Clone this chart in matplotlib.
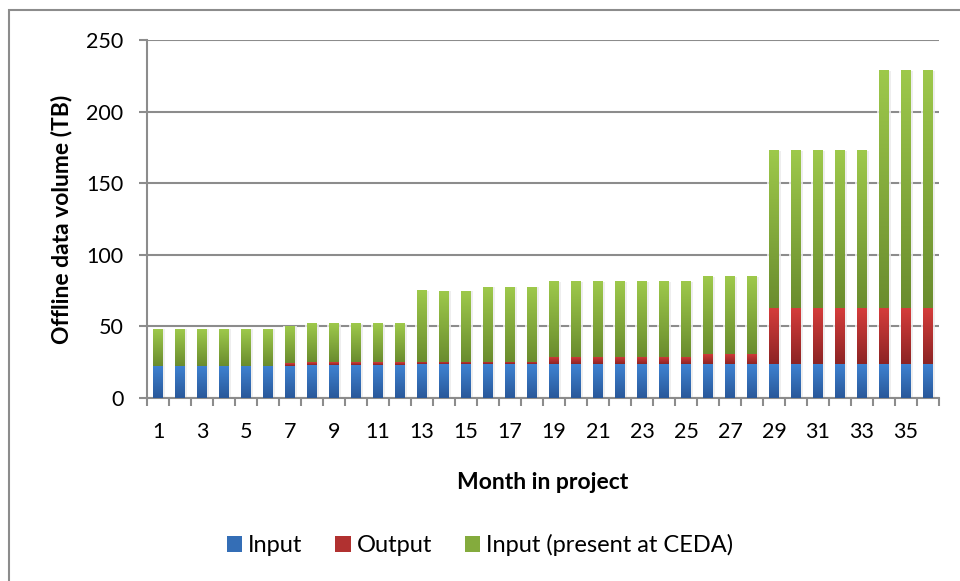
import numpy as np
import matplotlib
matplotlib.use("Agg")
import matplotlib.pyplot as plt
from matplotlib.colors import LinearSegmentedColormap
from matplotlib.patches import Rectangle, Patch

plt.rcParams['font.family'] = ['Lato', 'DejaVu Sans']

# Offline data volume per month (TB)
months = list(range(1, 37))
input_tb = [22.5] * 7 + [23.0] * 5 + [23.5] * 16 + [24.0] * 8
output_tb = [0.0] * 6 + [1.8] * 12 + [5.0] * 7 + [7.0] * 3 + [38.5] * 8
ceda_tb = ([25.5] * 6 + [25.7] + [27.2] * 5 + [49.7, 49.2, 49.2] + [52.2] * 3
           + [52.5] * 7 + [54.0] * 3 + [110.0] * 5 + [166.0] * 3)

series = [
    ("Input", input_tb, "#3f83d2", "#29589a"),
    ("Output", output_tb, "#d53d3b", "#8c2424"),
    ("Input (present at CEDA)", ceda_tb, "#9ec94b", "#6a8c2e"),
]

fig = plt.figure(figsize=(9.6, 5.81), dpi=100)
ax = fig.add_axes([147 / 960, 1 - 398 / 581, (939 - 147) / 960, (398 - 40) / 581])

x = np.arange(len(months))
width = 0.44
grad = np.linspace(0, 1, 256).reshape(-1, 1)

totals = np.sum([s[1] for s in series], axis=0)
# soft white glow and shadow behind every stack
ax.bar(x, totals, width + 0.22, color="white", alpha=0.75, linewidth=0, zorder=2)
ax.bar(x + 0.12, totals, width, color="#d0d0d0", alpha=0.35, linewidth=0,
       zorder=2.5)

bottom = np.zeros(len(months))
for name, vals, top_col, bot_col in series:
    vals = np.array(vals)
    cmap = LinearSegmentedColormap.from_list(name, [bot_col, top_col])
    bars = ax.bar(x, vals, width, bottom=bottom, facecolor="none",
                  linewidth=0, zorder=3)
    for p in bars.patches:
        if p.get_height() <= 0:
            continue
        x0, y0 = p.get_x(), p.get_y()
        ax.imshow(grad, cmap=cmap, origin="lower", aspect="auto",
                  extent=(x0, x0 + p.get_width(), y0, y0 + p.get_height()),
                  zorder=3, interpolation="bilinear")
    bottom = bottom + vals

ax.set_xlim(-0.5, len(months) - 0.5)
ax.set_ylim(0, 250)
ax.set_yticks(range(0, 251, 50))
ax.yaxis.grid(True, color="#8c8c8c", linewidth=1.5, zorder=1)
ax.set_axisbelow(True)

# labels on every second month, tick marks between categories
ax.set_xticks(x[::2])
ax.set_xticklabels([str(m) for m in months[::2]])
ax.set_xticks(np.arange(-0.5, len(months), 1), minor=True)
ax.tick_params(axis="x", which="major", length=0, pad=17, labelsize=15.5)
ax.tick_params(axis="x", which="minor", length=6, width=1.5, color="#8c8c8c",
               direction="out")
ax.tick_params(axis="y", length=6, width=1.5, color="#8c8c8c", pad=11,
               labelsize=15.5)

for side in ("top", "right"):
    ax.spines[side].set_visible(False)
for side in ("left", "bottom"):
    ax.spines[side].set_color("#8c8c8c")
    ax.spines[side].set_linewidth(1.5)

ax.set_xlabel("Month in project", fontsize=16.5, fontweight="bold", labelpad=22)
ax.set_ylabel("Offline data volume (TB)", fontsize=16.5, fontweight="bold",
              labelpad=10)

handles = [Patch(facecolor=LinearSegmentedColormap.from_list(n, [b, t])(0.5),
                 edgecolor="none", label=n)
           for n, _, t, b in series]
fig.legend(handles=handles, loc="center", bbox_to_anchor=(0.5, 1 - 545 / 581),
           ncol=3, frameon=False, fontsize=17, handlelength=0.65,
           handleheight=0.65, handletextpad=0.25, columnspacing=1.4)

# chart area border
fig.patches.append(Rectangle((9 / 960, -0.1), 1.2, 1 - 10 / 581 + 0.1,
                             transform=fig.transFigure, fill=False,
                             edgecolor="#8c8c8c", linewidth=1.5))

fig.savefig("out.png", dpi=100)
